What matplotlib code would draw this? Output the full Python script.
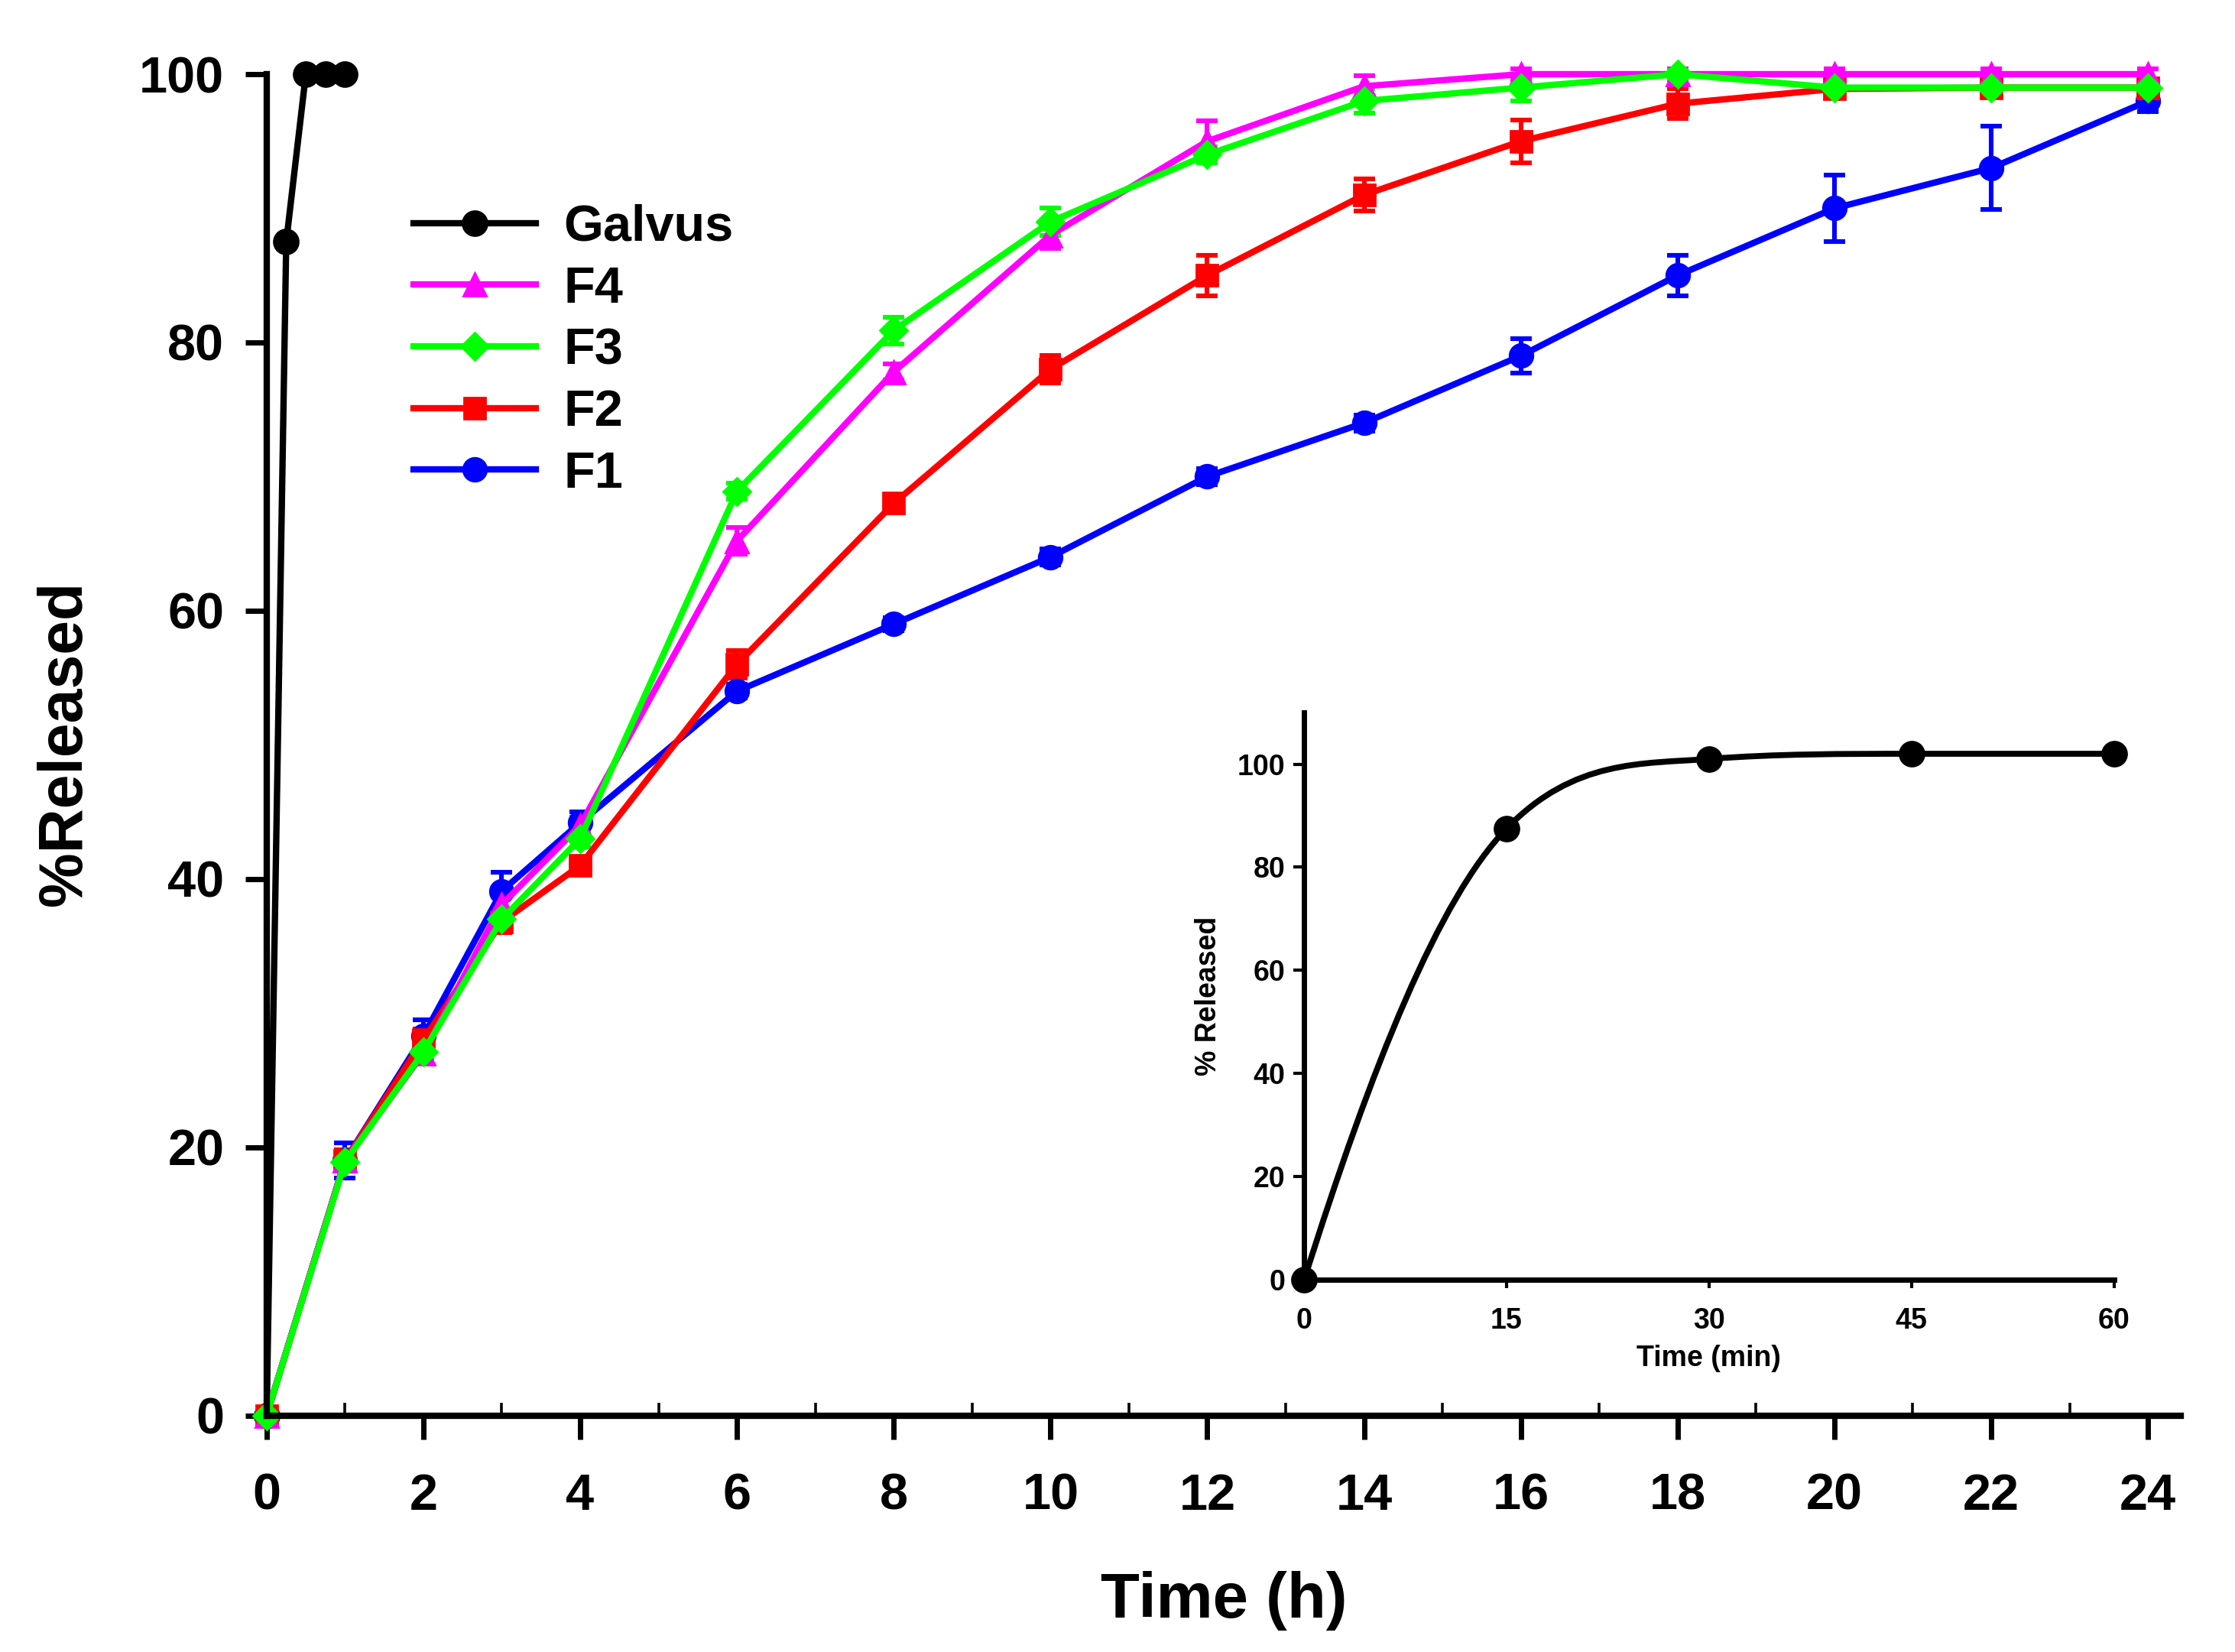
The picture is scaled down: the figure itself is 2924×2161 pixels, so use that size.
import numpy as np
import matplotlib
matplotlib.use("Agg")
import matplotlib.pyplot as plt
from matplotlib.path import Path
from matplotlib.patches import PathPatch

plt.rcParams["font.family"] = ["Liberation Sans", "DejaVu Sans"]
plt.rcParams["font.weight"] = "bold"

# ---- data ----
time_h = [0, 1, 2, 3, 4, 6, 8, 10, 12, 14, 16, 18, 20, 22, 24]
f1 = [0, 19, 28.3, 39.1, 44.2, 54, 59, 64, 70, 74, 79, 85, 90, 93, 98]
f1_err = [0, 1.3, 1.2, 1.4, 0.8, 0.5, 0.5, 0.6, 0.6, 0.6, 1.3, 1.5, 2.5, 3.1, 0.8]
f2 = [0, 19, 28, 36.8, 41, 56, 68, 78, 85, 91, 95, 97.8, 98.9, 99, 99]
f2_err = [0, 0.8, 0.8, 0.8, 0.6, 1.0, 0.6, 1.0, 1.5, 1.2, 1.6, 1.1, 0.6, 0.6, 0.6]
f3 = [0, 18.9, 27.1, 37, 43, 68.9, 80.9, 89, 94, 98, 99, 100, 99, 99, 99]
f3_err = [0, 0.6, 0.6, 0.6, 0.6, 0.6, 1.0, 1.0, 0.6, 0.9, 1.0, 0.3, 0.4, 0.4, 0.4]
f4 = [0, 19, 27, 38.1, 44, 65.2, 77.8, 88, 95, 99.1, 100, 100, 100, 100, 100]
f4_err = [0, 0.6, 0.6, 0.6, 0.6, 1.0, 0.6, 1.0, 1.5, 0.8, 0.4, 0.4, 0.4, 0.4, 0.4]
galvus_t = [0, 0.25, 0.5, 0.75, 1.0]
galvus = [0, 87.5, 100, 100, 100]

inset_min = [0, 15, 30, 45, 60]
inset_rel = [0, 87.5, 101, 102, 102]

x_ticks = list(range(0, 25, 2))
x_minor = list(range(1, 24, 2))
y_ticks = list(range(0, 101, 20))
inset_xticks = [0, 15, 30, 45, 60]
inset_yticks = [0, 20, 40, 60, 80, 100]


def monotone_path(xs, ys):
    # smooth line through the points (monotone cubic, as bezier segments)
    xs = np.asarray(xs, float)
    ys = np.asarray(ys, float)
    h = np.diff(xs)
    d = np.diff(ys) / h
    m = np.zeros(len(xs))
    # three-point end slopes
    m[0] = ((2 * h[0] + h[1]) * d[0] - h[0] * d[1]) / (h[0] + h[1])
    m[-1] = d[-1]
    for i in range(1, len(xs) - 1):
        if d[i - 1] * d[i] <= 0:
            m[i] = 0
        else:
            m[i] = min((d[i - 1] + d[i]) / 2, 3 * min(abs(d[i - 1]), abs(d[i])))
    verts = [(xs[0], ys[0])]
    codes = [Path.MOVETO]
    for i in range(len(xs) - 1):
        verts += [(xs[i] + h[i] / 3, ys[i] + m[i] * h[i] / 3),
                  (xs[i + 1] - h[i] / 3, ys[i + 1] - m[i + 1] * h[i] / 3),
                  (xs[i + 1], ys[i + 1])]
        codes += [Path.CURVE4] * 3
    return Path(verts, codes)


fig = plt.figure(figsize=(14.62, 10.805), dpi=200)
ax = fig.add_axes([0.1193, 0.1432, 0.8565, 0.8119])

series = [
    ("F1", f1, f1_err, "#0000FF", "o", 11),
    ("F2", f2, f2_err, "#FF0000", "s", 10),
    ("F4", f4, f4_err, "#FF00FF", "^", 10.5),
    ("F3", f3, f3_err, "#00FF00", "D", 9),
]
handles = {}
for name, vals, err, col, mk, ms in series:
    h = ax.errorbar(time_h, vals, yerr=err, color=col, marker=mk, ms=ms, lw=3,
                    elinewidth=2.2, capsize=5, capthick=2.2, clip_on=False)
    for art in h.lines[1] + h.lines[2]:
        art.set_clip_on(False)
    handles[name] = h.lines[0]

g, = ax.plot(galvus_t, galvus, color="black", marker="o", ms=11.5, lw=3, clip_on=False)
handles["Galvus"] = g

ax.set_xlim(0, 24.42)
ax.set_ylim(0, 100)
for side in ["top", "right"]:
    ax.spines[side].set_visible(False)
for side in ["left", "bottom"]:
    ax.spines[side].set_linewidth(3)

ax.set_xticks(x_ticks)
ax.set_xticks(x_minor, minor=True)
ax.set_yticks(y_ticks)
ax.tick_params(axis="x", which="major", direction="out", length=11, width=2.5,
               labelsize=24, pad=16)
ax.tick_params(axis="x", which="minor", direction="in", length=6, width=1.3)
ax.tick_params(axis="y", which="major", direction="out", length=10, width=2.5,
               labelsize=24, pad=10)
for lab in ax.get_xticklabels() + ax.get_yticklabels():
    lab.set_fontweight("bold")

ax.set_xlabel("Time (h)", fontsize=30, fontweight="bold", va="center")
ax.xaxis.set_label_coords(0.5, -0.138)
ax.set_ylabel("%Released", fontsize=29, fontweight="bold", va="center")
ax.yaxis.set_label_coords(-0.1054, 0.501)

order = ["Galvus", "F4", "F3", "F2", "F1"]
ax.legend([handles[k] for k in order], order, loc="upper left",
          bbox_to_anchor=(0.185, 0.8765), bbox_transform=fig.transFigure,
          frameon=False, borderpad=0, borderaxespad=0, handlelength=2.4,
          handletextpad=0.55, labelspacing=0.28,
          prop={"size": 24, "weight": "bold"})

# ---- inset ----
ins = fig.add_axes([0.5835, 0.2252, 0.3623, 0.3435])
ins.patch.set_alpha(0)
ins.add_patch(PathPatch(monotone_path(inset_min, inset_rel), fill=False,
                        lw=2.8, edgecolor="black", clip_on=False))
ins.plot(inset_min, inset_rel, ls="none", marker="o", ms=11.5, color="black",
         clip_on=False, zorder=3)
ins.set_xlim(0, 60)
ins.set_ylim(0, 110)
for side in ["top", "right"]:
    ins.spines[side].set_visible(False)
for side in ["left", "bottom"]:
    ins.spines[side].set_linewidth(2.5)
ins.set_xticks(inset_xticks)
ins.set_yticks(inset_yticks)
ins.tick_params(axis="x", direction="out", length=4, width=1.5, labelsize=13.5, pad=9)
ins.tick_params(axis="y", direction="out", length=5, width=1.5, labelsize=13.5, pad=4)
for lab in ins.get_xticklabels() + ins.get_yticklabels():
    lab.set_fontweight("bold")
ins.set_xlabel("Time (min)", fontsize=13.5, fontweight="bold", va="center")
ins.xaxis.set_label_coords(0.5, -0.138)
ins.set_ylabel("% Released", fontsize=13.5, fontweight="bold", va="center")
ins.yaxis.set_label_coords(-0.118, 0.5)

fig.savefig("out.png", dpi=200)
